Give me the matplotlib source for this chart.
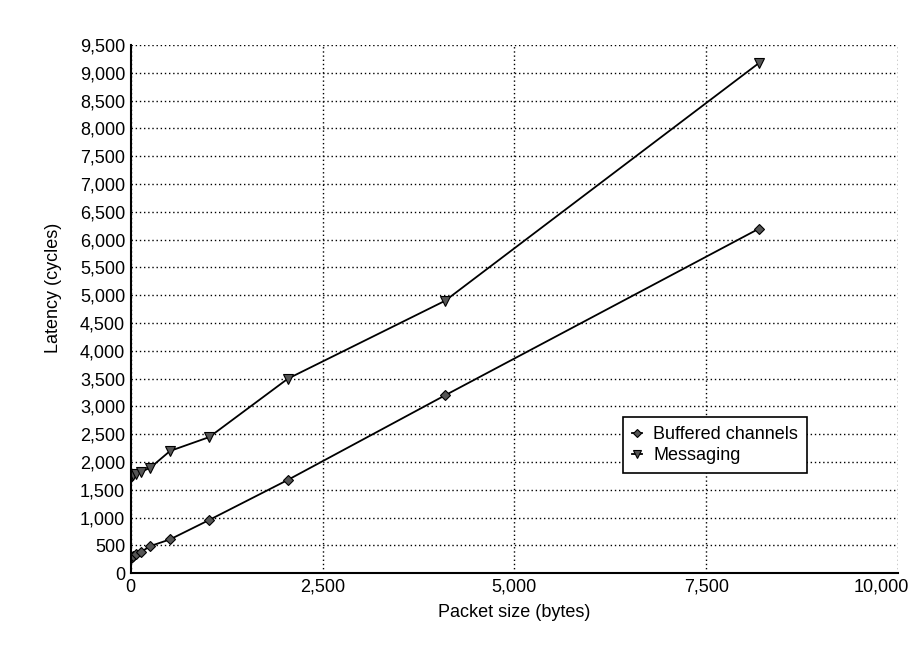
import matplotlib
matplotlib.use('Agg')
import matplotlib.pyplot as plt
from matplotlib.ticker import FuncFormatter
from matplotlib.transforms import ScaledTranslation

plt.rcParams['font.family'] = ['Liberation Sans', 'DejaVu Sans']

# packet sizes (bytes) and latencies (cycles)
packet_sizes = [8, 16, 32, 64, 128, 256, 512, 1024, 2048, 4096, 8192]
buffered = [270, 290, 310, 340, 380, 490, 610, 960, 1680, 3200, 6200]
messaging = [1740, 1750, 1760, 1780, 1820, 1900, 2200, 2450, 3500, 4900, 9180]

x_ticks = [0, 2500, 5000, 7500, 10000]
y_ticks = list(range(0, 9501, 500))

fig = plt.figure(figsize=(9.21, 6.62), dpi=100)
ax = fig.add_axes([0.142, 0.134, 0.833, 0.798])

ax.plot(packet_sizes, buffered, color='black', lw=1.3, marker='D', ms=5,
        mfc='#555555', mec='black', mew=0.8, label='Buffered channels')
ax.plot(packet_sizes, messaging, color='black', lw=1.3, marker='v', ms=6.5,
        mfc='#555555', mec='black', mew=0.8, label='Messaging')

ax.set_xlim(0, 10000)
ax.set_ylim(0, 9500)
ax.set_xticks(x_ticks)
ax.set_yticks(y_ticks)
fmt = FuncFormatter(lambda v, p: f'{int(v):,}')
ax.xaxis.set_major_formatter(fmt)
ax.yaxis.set_major_formatter(fmt)
ax.tick_params(length=0, labelsize=13, pad=4)

# last x label sits a bit to the left in the original
lab = ax.get_xticklabels()[-1]
lab.set_transform(lab.get_transform() + ScaledTranslation(-0.17, 0, fig.dpi_scale_trans))

ax.grid(True, ls=(0, (1, 2)), color='black', lw=1.0)
ax.set_axisbelow(True)
for side in ['top', 'right']:
    ax.spines[side].set_visible(False)
for side in ['left', 'bottom']:
    ax.spines[side].set_linewidth(1.5)

ax.set_xlabel('Packet size (bytes)', fontsize=13, labelpad=6)
ax.set_ylabel('Latency (cycles)', fontsize=13)
ax.yaxis.set_label_coords(-0.09, 0.54)

leg = ax.legend(loc='upper left', bbox_to_anchor=(0.641, 0.295),
                fontsize=13, frameon=True, fancybox=False, edgecolor='black',
                handlelength=0.6, handletextpad=0.6, borderpad=0.5,
                labelspacing=0.2, markerscale=0.9, borderaxespad=0)
leg.get_frame().set_linewidth(1.2)
leg.get_frame().set_alpha(1)

fig.savefig('out.png', dpi=100, facecolor='white')
